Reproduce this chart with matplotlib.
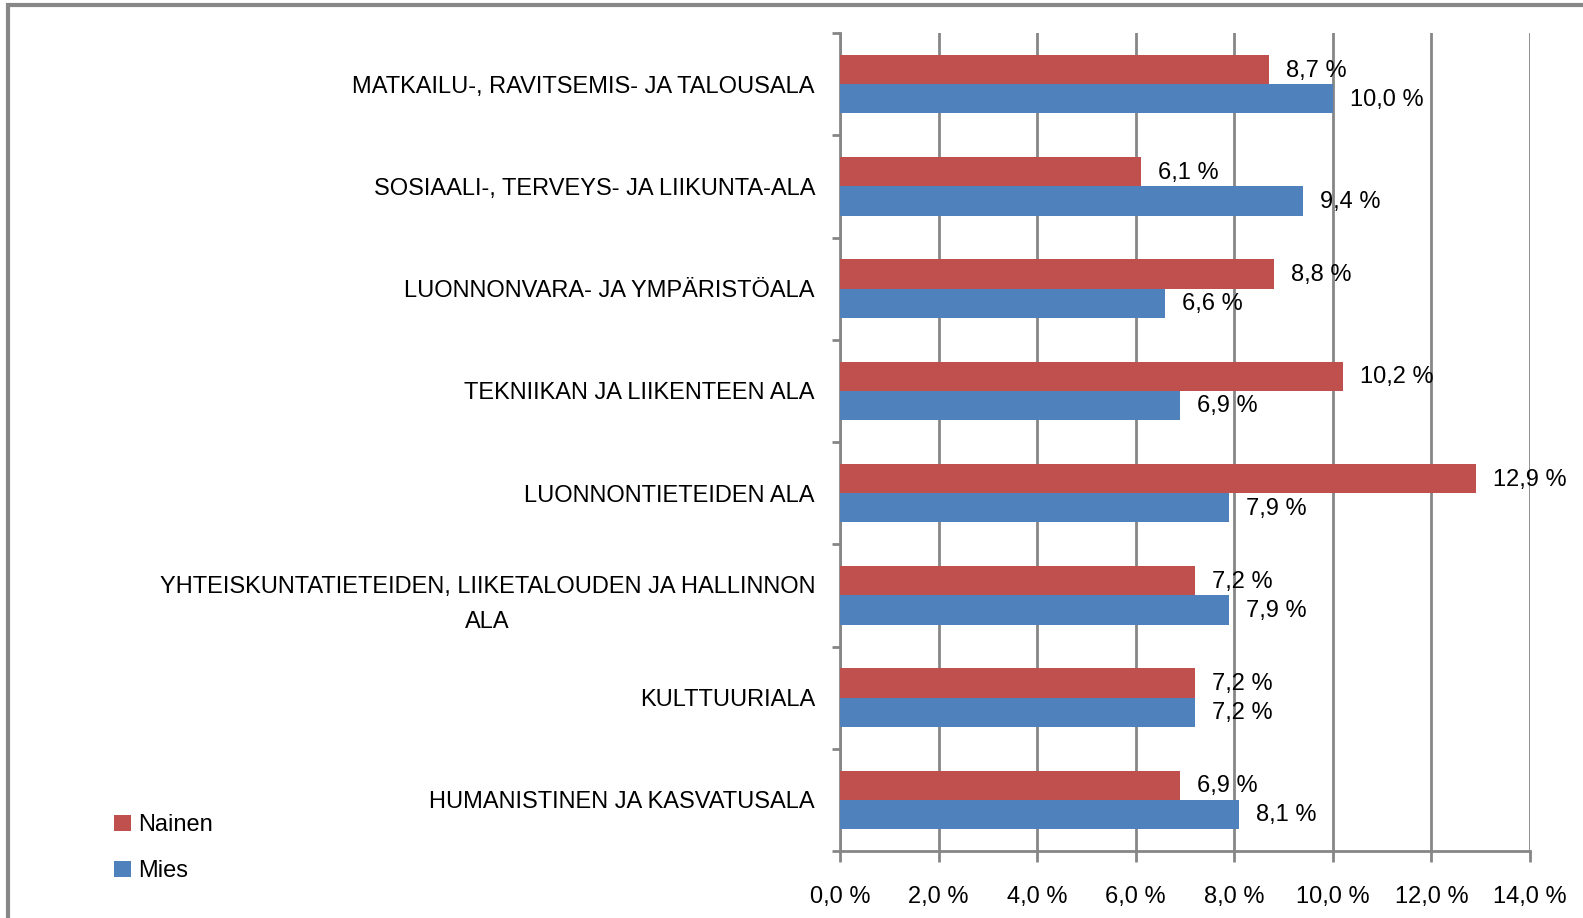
import matplotlib
matplotlib.use("Agg")
import matplotlib.pyplot as plt
from matplotlib.patches import Rectangle
from matplotlib.font_manager import fontManager

names = {f.name for f in fontManager.ttflist}
fam = ['Liberation Sans Narrow', 'DejaVu Sans'] if 'Liberation Sans Narrow' in names else ['Liberation Sans', 'DejaVu Sans']
plt.rcParams['font.family'] = fam

categories = [
    "MATKAILU-, RAVITSEMIS- JA TALOUSALA",
    "SOSIAALI-, TERVEYS- JA LIIKUNTA-ALA",
    "LUONNONVARA- JA YMPÄRISTÖALA",
    "TEKNIIKAN JA LIIKENTEEN ALA",
    "LUONNONTIETEIDEN ALA",
    "YHTEISKUNTATIETEIDEN, LIIKETALOUDEN JA HALLINNON\nALA",
    "KULTTUURIALA",
    "HUMANISTINEN JA KASVATUSALA",
]
nainen = [8.7, 6.1, 8.8, 10.2, 12.9, 7.2, 7.2, 6.9]
mies = [10.0, 9.4, 6.6, 6.9, 7.9, 7.9, 7.2, 8.1]
xticks = [0, 2, 4, 6, 8, 10, 12, 14]

RED = "#C0504D"
BLUE = "#4F81BD"
GRID = "#868686"

fig = plt.figure(figsize=(15.83, 9.18), dpi=100)
W, H = 1583, 918
ax = fig.add_axes([840 / W, 1 - 851 / H, (1530 - 840) / W, (851 - 33) / H])

n = len(categories)
bh = 0.286
ys = list(range(n))
ax.barh([y - bh / 2 for y in ys], nainen, height=bh, color=RED, label="Nainen", zorder=3)
ax.barh([y + bh / 2 for y in ys], mies, height=bh, color=BLUE, label="Mies", zorder=3)

ax.set_ylim(n - 0.5, -0.5)
ax.set_xlim(0, 14)
ax.set_xticks(xticks)
ax.set_xticklabels([f"{t:.1f} %".replace(".", ",") for t in xticks], fontsize=17)
ax.set_yticks(ys)
ax.set_yticklabels(categories, fontsize=17, multialignment='center', linespacing=1.75)
ax.set_yticks([y - 0.5 for y in range(n + 1)], minor=True)
ax.tick_params(axis='y', which='major', length=0, pad=18)
ax.tick_params(axis='y', which='minor', length=6, width=2, color=GRID, direction='out')
ax.tick_params(axis='x', length=8, width=2, color=GRID, direction='out', pad=17)

ax.grid(axis='x', color=GRID, linewidth=2, zorder=0)
for s in ['top', 'right']:
    ax.spines[s].set_visible(False)
for s in ['left', 'bottom']:
    ax.spines[s].set_color(GRID)
    ax.spines[s].set_linewidth(2)

for y, v in zip(ys, nainen):
    ax.annotate(f"{v:.1f} %".replace(".", ","), (v, y - bh / 2), xytext=(17, -1),
                textcoords='offset pixels', va='center', ha='left', fontsize=17, zorder=4)
for y, v in zip(ys, mies):
    ax.annotate(f"{v:.1f} %".replace(".", ","), (v, y + bh / 2), xytext=(17, -1),
                textcoords='offset pixels', va='center', ha='left', fontsize=17, zorder=4)

leg = fig.legend(loc='upper left', bbox_to_anchor=(105 / W, 1 - 805 / H), frameon=False,
                 fontsize=17, handlelength=0.7, handleheight=0.7, handletextpad=0.3,
                 labelspacing=1.0, borderaxespad=0)

fig.add_artist(Rectangle((8 / W, -0.1), 1.2, 1 - 5 / H + 0.1, transform=fig.transFigure,
                         fill=False, edgecolor="#878787", linewidth=3))

fig.savefig("out.png", dpi=100)
